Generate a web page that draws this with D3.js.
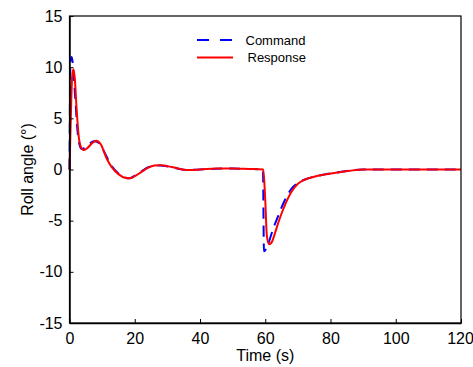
<!DOCTYPE html>
<html>
<head>
<meta charset="utf-8">
<script src="https://cdn.jsdelivr.net/npm/d3@7/dist/d3.min.js"></script>
<style>
  html, body { margin: 0; padding: 0; background: #fff; }
  svg { display: block; font-family: Arial, "Liberation Sans", sans-serif; }
</style>
</head>
<body>
<svg id="chart" width="473" height="367"></svg>
<script>
// Roll angle command vs. response over time
const commandT = [0, 0.3, 0.7, 1.2, 1.8, 2.5, 3.0, 3.8, 4.5, 6, 7.5, 9, 11, 13, 15, 17, 18.5, 20, 22, 24, 26, 28, 30, 33, 36, 40, 45, 50, 55, 59.3, 59.6, 60.2, 61, 62, 63, 64, 65, 66, 67, 68, 70, 72, 75, 78, 82, 86, 90, 120];
const commandV = [0, 10.5, 11.0, 9.5, 6.8, 3.6, 2.5, 2.0, 2.1, 2.5, 2.75, 2.6, 1.5, 0.3, -0.4, -0.8, -0.85, -0.6, -0.2, 0.2, 0.38, 0.4, 0.3, 0.1, -0.05, 0, 0.08, 0.1, 0.05, 0.0, -8.0, -7.8, -7.2, -6.2, -5.3, -4.5, -3.7, -3.0, -2.4, -1.9, -1.3, -1.0, -0.7, -0.5, -0.3, -0.1, 0, 0];

const responseT = [0, 0.4, 0.8, 1.2, 1.6, 2.2, 2.8, 3.5, 4.5, 5.5, 7, 8.2, 9.5, 11.5, 13, 15, 17, 18.5, 20, 22, 24, 26, 28, 30, 33, 36, 40, 45, 50, 55, 59.4, 60.0, 60.5, 61.2, 62, 63, 64, 65, 66, 67, 68, 70, 72, 75, 78, 82, 86, 90, 120];
const responseV = [0, 5, 9, 9.8, 9.0, 5.8, 3.3, 2.2, 1.9, 2.1, 2.6, 2.8, 2.5, 1.0, 0.2, -0.45, -0.8, -0.85, -0.65, -0.25, 0.15, 0.38, 0.42, 0.33, 0.12, -0.05, 0.0, 0.1, 0.1, 0.05, 0.0, -3, -6.5, -7.3, -7.1, -6.2, -5.2, -4.3, -3.5, -2.8, -2.2, -1.4, -1.0, -0.7, -0.5, -0.3, -0.12, 0, 0];

const xTicks = [0, 20, 40, 60, 80, 100, 120];
const yTicks = [-15, -10, -5, 0, 5, 10, 15];

const seriesNames = ["Command", "Response"];
const seriesColors = ["#0000ff", "#ff0000"];

const margin = { left: 69.5, right: 12, top: 16, bottom: 44 };
const W = 473, H = 367;

const svg = d3.select("#chart");
const x = d3.scaleLinear().domain([0, 120]).range([margin.left, W - margin.right]);
const y = d3.scaleLinear().domain([-15, 15]).range([H - margin.bottom, margin.top]);

const toPoints = (ts, vs) => ts.map((t, i) => [t, vs[i]]);
const line = d3.line().x(d => x(d[0])).y(d => y(d[1])).curve(d3.curveMonotoneX);

const plot = svg.append("g");
plot.append("path")
  .datum(toPoints(commandT, commandV))
  .attr("d", line)
  .attr("fill", "none")
  .attr("stroke", seriesColors[0])
  .attr("stroke-width", 2)
  .attr("stroke-dasharray", "11,7");
plot.append("path")
  .datum(toPoints(responseT, responseV))
  .attr("d", line)
  .attr("fill", "none")
  .attr("stroke", seriesColors[1])
  .attr("stroke-width", 2);

// Frame
svg.append("rect")
  .attr("x", x(0)).attr("y", y(15))
  .attr("width", x(120) - x(0)).attr("height", y(-15) - y(15))
  .attr("fill", "none").attr("stroke", "#000").attr("stroke-width", 1.2);

// Axes with inward ticks; plain hyphen for negatives
const fmt = d => String(d);
const xAxis = svg.append("g")
  .attr("transform", `translate(0,${y(-15)})`)
  .call(d3.axisBottom(x).tickValues(xTicks).tickFormat(fmt).tickSizeInner(-4).tickSizeOuter(0).tickPadding(10));
const yAxis = svg.append("g")
  .attr("transform", `translate(${x(0)},0)`)
  .call(d3.axisLeft(y).tickValues(yTicks).tickFormat(fmt).tickSizeInner(-4).tickSizeOuter(0).tickPadding(7));
[xAxis, yAxis].forEach(g => {
  g.select(".domain").attr("stroke", "#000").attr("stroke-width", 1.5);
  g.selectAll(".tick line").attr("stroke", "#000").attr("stroke-width", 1);
  g.selectAll(".tick text").attr("fill", "#000").style("font-size", "16px")
    .style("font-family", "Arial, 'Liberation Sans', sans-serif");
});
// keep the last x label inside the canvas
xAxis.selectAll(".tick text").filter(d => d === 120).attr("dx", -1);

// Axis titles
svg.append("text")
  .attr("x", (x(0) + x(120)) / 2).attr("y", 361)
  .attr("text-anchor", "middle").style("font-size", "16px").text("Time (s)");
svg.append("text")
  .attr("transform", `translate(33,${(y(15) + y(-15)) / 2}) rotate(-90)`)
  .attr("text-anchor", "middle").style("font-size", "16px").text("Roll angle (°)");

// Legend
const legend = svg.append("g");
const legendY = [40, 57.5];
seriesNames.forEach((name, i) => {
  legend.append("line")
    .attr("x1", 197).attr("x2", 233)
    .attr("y1", legendY[i]).attr("y2", legendY[i])
    .attr("stroke", seriesColors[i]).attr("stroke-width", 2)
    .attr("stroke-dasharray", i === 0 ? "12,11" : null);
  legend.append("text")
    .attr("x", i === 0 ? 245.5 : 247.5).attr("y", legendY[i] + 4.5)
    .style("font-size", "13px").attr("fill", "#000").text(name);
});
</script>
</body>
</html>
